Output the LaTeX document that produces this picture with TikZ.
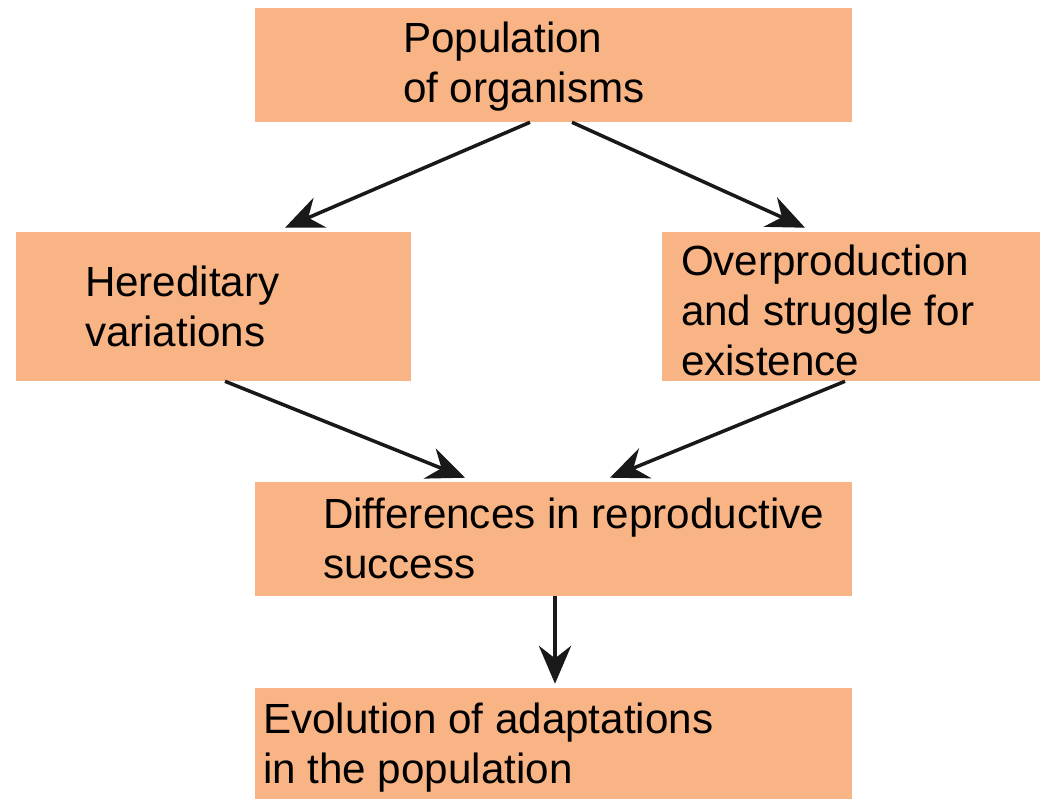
\documentclass[tikz,border=0pt]{standalone}
\usepackage{fontspec}
\setmainfont{Liberation Sans}
\usepackage{tikz}
\usetikzlibrary{positioning,calc,arrows.meta}
\definecolor{boxorange}{RGB}{248,180,132}

\begin{document}
\begin{tikzpicture}[x=0.025cm,y=-0.025cm,
    box/.style 2 args={fill=boxorange,inner sep=0pt,minimum width={#1*0.025cm},minimum height={#2*0.025cm}},
    label/.style={anchor=west,inner sep=0pt,align=left,font=\fontsize{30}{35.6}\selectfont},
    arr/.style={line width=2.5pt,draw=black!90,-{Stealth[length=27pt,width=23pt,inset=9pt]}}]
      \useasboundingbox (0,0) rectangle (1040,799);
      % boxes
      \node[box={597}{114}](pop) at (553.5,65){};
      \node[box={395}{149}](her) at (213.5,306.5){};
      \node[box={378}{149}](over) at (851,306.5){};
      \node[box={597}{114}](diff) at (553.5,539){};
      \node[box={597}{111}](evo) at (553.5,743.5){};
      % texts
      \node[label](popt) at ($(pop.west)+(148,2)$){Population\\of organisms};
      \node[label](hert) at ($(her.west)+(69,0)$){Hereditary\\variations};
      \node[label](overt) at ($(over.west)+(19,4)$){Overproduction\\and struggle for\\existence};
      \node[label](difft) at ($(diff.west)+(68,-1)$){Differences in reproductive\\success};
      \node[label](evot) at ($(evo.west)+(8,4)$){Evolution of adaptations\\in the population};
      % arrows
      \draw[arr] ($(pop.south)+(-23.5,0)$) -- ($(her.north)+(71.5,-4)$);
      \draw[arr] ($(pop.south)+(18.5,0)$) -- ($(over.north)+(-46,-4)$);
      \draw[arr] ($(her.south)+(11.5,0)$) -- ($(diff.north)+(-88.5,-4)$);
      \draw[arr] ($(over.south)+(-6,0)$) -- ($(diff.north)+(56.5,-4)$);
      \draw[arr] ($(diff.south)+(1.5,0)$) -- ($(evo.north)+(1.5,-4)$);
    \end{tikzpicture}
\end{document}
